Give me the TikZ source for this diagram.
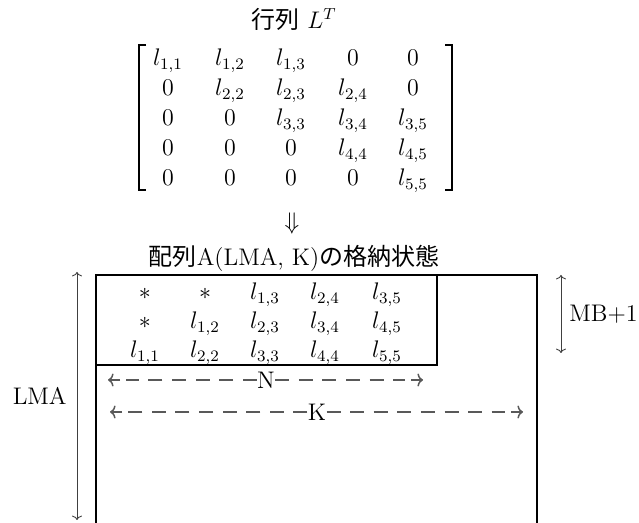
\documentclass[tikz,border=0pt]{standalone}
\usepackage{fontspec}
\newfontfamily\jp{Noto Sans CJK JP}
\usetikzlibrary{arrows.meta}
\tikzset{
  txt/.style={inner sep=0pt, font=\fontsize{12}{14}\selectfont},
  cell/.style={txt, anchor=base},
  box/.style={line width=1pt, black},
  brk/.style={line width=0.9pt, black},
  dim/.style={line width=0.45pt, black!75, {To[length=2.2pt,width=5pt]}-{To[length=2.2pt,width=5pt]}},
  dashln/.style={line width=0.75pt, black!65, dash pattern=on 7pt off 4.8pt},
  tipln/.style={line width=0.75pt, black!65, -{To[length=2.8pt,width=6.5pt]}}
}
\begin{document}
\begin{tikzpicture}[x=0.5pt,y=-0.5pt]
\useasboundingbox (0,0) rectangle (639,523);
% title 1
\node[txt] (t1) at (294,19) {{\jp 行列} $L^T$};
% upper matrix
\node[cell] (u11) at (168,66) {$l_{1,1}$};
\node[cell] (u12) at (230,66) {$l_{1,2}$};
\node[cell] (u13) at (291,66) {$l_{1,3}$};
\node[cell] (u14) at (353,66) {$0$};
\node[cell] (u15) at (413,66) {$0$};
\node[cell] (u21) at (168,96) {$0$};
\node[cell] (u22) at (230,96) {$l_{2,2}$};
\node[cell] (u23) at (291,96) {$l_{2,3}$};
\node[cell] (u24) at (353,96) {$l_{2,4}$};
\node[cell] (u25) at (413,96) {$0$};
\node[cell] (u31) at (168,126) {$0$};
\node[cell] (u32) at (230,126) {$0$};
\node[cell] (u33) at (291,126) {$l_{3,3}$};
\node[cell] (u34) at (353,126) {$l_{3,4}$};
\node[cell] (u35) at (413,126) {$l_{3,5}$};
\node[cell] (u41) at (168,156) {$0$};
\node[cell] (u42) at (230,156) {$0$};
\node[cell] (u43) at (291,156) {$0$};
\node[cell] (u44) at (353,156) {$l_{4,4}$};
\node[cell] (u45) at (413,156) {$l_{4,5}$};
\node[cell] (u51) at (168,186) {$0$};
\node[cell] (u52) at (230,186) {$0$};
\node[cell] (u53) at (291,186) {$0$};
\node[cell] (u54) at (353,186) {$0$};
\node[cell] (u55) at (413,186) {$l_{5,5}$};
% brackets
\draw[brk] (146,45) -- (139,45) -- (139,190) -- (146,190);
\draw[brk] (445,45) -- (452,45) -- (452,190) -- (445,190);
% down arrow
\node[txt] (dn) at (292,224) {$\Downarrow$};
% title 2
\node[txt] (t2) at (294,258) {{\jp 配列}A(LMA, K){\jp の格納状態}};
% boxes
\draw[box] (96,523) -- (96,275) -- (537,275) -- (537,523);
\draw[box] (96,275) rectangle (437,365);
% lower cells
\node[cell] (a11) at (145,300) {$*$};
\node[cell] (a12) at (205,300) {$*$};
\node[cell] (a13) at (265,300) {$l_{1,3}$};
\node[cell] (a14) at (325,300) {$l_{2,4}$};
\node[cell] (a15) at (387,300) {$l_{3,5}$};
\node[cell] (a21) at (145,329) {$*$};
\node[cell] (a22) at (205,329) {$l_{1,2}$};
\node[cell] (a23) at (265,329) {$l_{2,3}$};
\node[cell] (a24) at (325,329) {$l_{3,4}$};
\node[cell] (a25) at (387,329) {$l_{4,5}$};
\node[cell] (a31) at (145,358) {$l_{1,1}$};
\node[cell] (a32) at (205,358) {$l_{2,2}$};
\node[cell] (a33) at (265,358) {$l_{3,3}$};
\node[cell] (a34) at (325,358) {$l_{4,4}$};
\node[cell] (a35) at (387,358) {$l_{5,5}$};
% N arrow
\node[txt] (N) at (266,380) {N};
\coordinate (nl) at (108,380);
\coordinate (nlb) at (120,380);
\coordinate (nlc) at (126,380);
\coordinate (nr) at (423,380);
\coordinate (nrb) at (411,380);
\coordinate (nrc) at (405,380);
\draw[tipln] (nlb) -- (nl);
\draw[tipln] (nrb) -- (nr);
\draw[dashln] (N.west) -- (nlc);
\draw[dashln] (N.east) -- (nrc);
% K arrow
\node[txt] (K) at (317,412) {K};
\coordinate (kl) at (110,412);
\coordinate (klb) at (122,412);
\coordinate (klc) at (128,412);
\coordinate (kr) at (523,412);
\coordinate (krb) at (511,412);
\coordinate (krc) at (505,412);
\draw[tipln] (klb) -- (kl);
\draw[tipln] (krb) -- (kr);
\draw[dashln] (K.west) -- (klc);
\draw[dashln] (K.east) -- (krc);
% LMA
\coordinate (lt) at (77,272);
\coordinate (lb) at (77,520);
\draw[dim] (lt) -- (lb);
\node[txt, anchor=east] (lma) at (67,396) {LMA};
% MB+1
\coordinate (mt) at (561,275);
\coordinate (mb) at (561,353);
\draw[dim] (mt) -- (mb);
\node[txt, anchor=west] (mbl) at (569,314) {MB+1};
\end{tikzpicture}
\end{document}
